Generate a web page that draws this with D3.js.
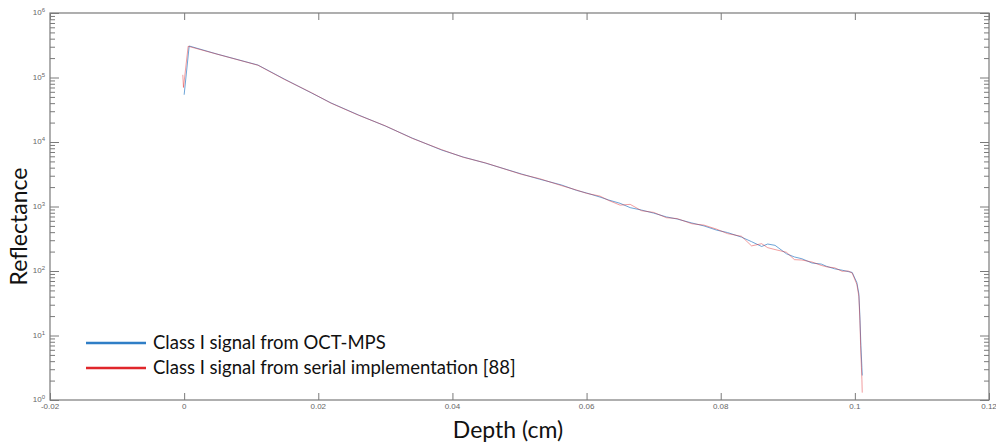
<!DOCTYPE html>
<html>
<head>
<meta charset="utf-8">
<script src="https://cdn.jsdelivr.net/npm/d3@7"></script>
<style>
  body { margin: 0; background: #fff; }
  svg { display: block; }
  .tick-label { font-family: "Liberation Sans", Arial, sans-serif; font-size: 8px; fill: #666; }
  .axis-title { font-family: "Lato", "Open Sans", sans-serif; font-size: 23px; fill: #111; }
  .legend-text { font-family: "Lato", "Open Sans", sans-serif; font-size: 18.5px; fill: #111; }
</style>
</head>
<body>
<svg width="996" height="444"></svg>
<script>
// Class I signal from OCT-MPS
var blueDepth = [0.0000, 0.00075, 0.0049, 0.0110, 0.0149, 0.0190, 0.0219, 0.0260, 0.0300, 0.0340,
  0.0384, 0.0416, 0.0449, 0.0503, 0.0530, 0.0563, 0.0585, 0.0600, 0.0620, 0.0633,
  0.0650, 0.0665, 0.0682, 0.0700, 0.0719, 0.0735, 0.0757, 0.0775, 0.0794, 0.0810,
  0.0831, 0.0846, 0.0861, 0.0870, 0.0881, 0.0898, 0.0910, 0.0921, 0.0936, 0.0950,
  0.0958, 0.0970, 0.0981, 0.0990, 0.0996, 0.1003, 0.1006, 0.10075, 0.1009, 0.10105, 0.1011];
var blueRefl = [5.4e4, 3.08e5, 2.31e5, 1.56e5, 9.5e4, 5.75e4, 4.03e4, 2.62e4, 1.77e4, 1.15e4,
  7.5e3, 5.85e3, 4.72e3, 3.19e3, 2.65e3, 2.15e3, 1.78e3, 1.62e3, 1.40e3, 1.26e3,
  1120, 960, 880, 790, 690, 640, 555, 500, 430, 395,
  335, 285, 240, 262, 250, 185, 165, 155, 133, 128,
  118, 108, 103, 98, 95, 66, 44, 20, 7, 3.2, 2.4];

// Class I signal from serial implementation [88]
var redDepth = [-0.0002, -0.0001, 0.0006, 0.0049, 0.0110, 0.0149, 0.0190, 0.0219, 0.0260, 0.0300, 0.0340,
  0.0384, 0.0416, 0.0449, 0.0503, 0.0530, 0.0563, 0.0585, 0.0600, 0.0620, 0.0633,
  0.0650, 0.0665, 0.0682, 0.0700, 0.0719, 0.0735, 0.0757, 0.0775, 0.0794, 0.0810,
  0.0831, 0.0846, 0.0861, 0.0870, 0.0881, 0.0898, 0.0910, 0.0921, 0.0936, 0.0950,
  0.0958, 0.0970, 0.0981, 0.0990, 0.0996, 0.1003, 0.1006, 0.10075, 0.1009, 0.10105, 0.1011];
var redRefl = [1.1e5, 7.0e4, 3.05e5, 2.30e5, 1.55e5, 9.4e4, 5.8e4, 4.0e4, 2.6e4, 1.78e4, 1.14e4,
  7.6e3, 5.8e3, 4.75e3, 3.15e3, 2.7e3, 2.1e3, 1.8e3, 1.6e3, 1.45e3, 1.24e3,
  1050, 1080, 860, 810, 670, 650, 540, 515, 445, 380,
  345, 245, 265, 230, 215, 195, 150, 148, 138, 122,
  116, 112, 99, 100, 93, 62, 40, 17, 5, 2.1, 1.3];

var xTicks = [-0.02, 0, 0.02, 0.04, 0.06, 0.08, 0.1, 0.12];
var xTickLabels = ["-0.02", "0", "0.02", "0.04", "0.06", "0.08", "0.1", "0.12"];
var yDecades = [1, 10, 100, 1000, 10000, 100000, 1000000];
var yExponents = ["0", "1", "2", "3", "4", "5", "6"];

var legendLabels = ["Class I signal from OCT-MPS", "Class I signal from serial implementation [88]"];
var legendColors = ["#2f7ec6", "#e0262b"];

var svg = d3.select("svg");
var margin = {"top": 13, "bottom": 44, "left": 50, "right": 7};
var width = +svg.attr("width") - margin.left - margin.right;
var height = +svg.attr("height") - margin.top - margin.bottom;

var x = d3.scaleLinear().domain([-0.02, 0.12]).range([0, width]);
var y = d3.scaleLog().domain([1, 1e6]).range([height, 0]);

var container = svg.append("g")
    .attr("transform", "translate(" + margin.left + "," + margin.top + ")");

// all log ticks, major + minor
var yAll = [];
yDecades.forEach(function(d, i) {
  if (i == yDecades.length - 1) { yAll.push(d); return; }
  for (var k = 1; k < 10; k++) yAll.push(d * k);
});
function isMajor(v) { return Math.abs(Math.log10(v) - Math.round(Math.log10(v))) < 1e-9; }

var axisColor = "#7a7a7a";

function styleAxis(g) {
  g.select(".domain").remove();
  g.selectAll("line").attr("stroke", axisColor);
  g.selectAll("text").remove();
}

// bottom and top x axis (ticks pointing inward)
container.append("g")
    .attr("transform", "translate(0," + height + ")")
    .call(d3.axisBottom(x).tickValues(xTicks).tickSize(-7))
    .call(styleAxis);
container.append("g")
    .call(d3.axisTop(x).tickValues(xTicks).tickSize(-7))
    .call(styleAxis);

// left and right y axis
container.append("g")
    .call(d3.axisLeft(y).tickValues(yAll).tickSize(-5))
    .call(styleAxis)
    .selectAll(".tick line")
    .attr("x2", function(d) { return isMajor(d) ? 9 : 5; });
container.append("g")
    .attr("transform", "translate(" + width + ",0)")
    .call(d3.axisRight(y).tickValues(yAll).tickSize(-5))
    .call(styleAxis)
    .selectAll(".tick line")
    .attr("x2", function(d) { return isMajor(d) ? -9 : -5; });

// frame
container.append("rect")
    .attr("width", width)
    .attr("height", height)
    .attr("fill", "none")
    .attr("stroke", axisColor)
    .attr("stroke-width", 1.2);

// x tick labels
container.selectAll(".xlab").data(xTicks)
  .enter().append("text")
    .attr("class", "tick-label")
    .attr("x", function(d) { return x(d); })
    .attr("y", height + 9)
    .attr("text-anchor", "middle")
    .text(function(d, i) { return xTickLabels[i]; });

// y tick labels 10^n
var ylab = container.selectAll(".ylab").data(yDecades)
  .enter().append("text")
    .attr("class", "tick-label")
    .attr("x", -5)
    .attr("y", function(d) { return y(d) + 2; })
    .attr("text-anchor", "end");
ylab.append("tspan").text("10");
ylab.append("tspan")
    .attr("dy", -3)
    .attr("font-size", "6px")
    .text(function(d, i) { return yExponents[i]; });

// series
var line = d3.line()
    .x(function(d) { return x(d[0]); })
    .y(function(d) { return y(d[1]); });

var blueData = blueDepth.map(function(d, i) { return [d, blueRefl[i]]; });
var redData = redDepth.map(function(d, i) { return [d, redRefl[i]]; });

container.append("path")
    .datum(blueData)
    .attr("d", line)
    .attr("fill", "none")
    .attr("stroke", legendColors[0])
    .attr("stroke-width", 1)
    .attr("stroke-opacity", 0.7);
container.append("path")
    .datum(redData)
    .attr("d", line)
    .attr("fill", "none")
    .attr("stroke", legendColors[1])
    .attr("stroke-width", 1)
    .attr("stroke-opacity", 0.45);

// legend
var legend = svg.append("g");
legendLabels.forEach(function(lab, i) {
  var ly = 343 + i * 25;
  legend.append("line")
      .attr("x1", 86).attr("x2", 146)
      .attr("y1", ly).attr("y2", ly)
      .attr("stroke", legendColors[i])
      .attr("stroke-width", 2.5);
  legend.append("text")
      .attr("class", "legend-text")
      .attr("x", 153)
      .attr("y", ly + 6)
      .text(lab);
});

// axis titles
svg.append("text")
    .attr("class", "axis-title")
    .attr("transform", "translate(27," + (margin.top + height / 2 + 20) + ") rotate(-90)")
    .attr("text-anchor", "middle")
    .text("Reflectance");

svg.append("text")
    .attr("class", "axis-title")
    .attr("x", 508)
    .attr("y", 438)
    .attr("text-anchor", "middle")
    .text("Depth (cm)");
</script>
</body>
</html>
